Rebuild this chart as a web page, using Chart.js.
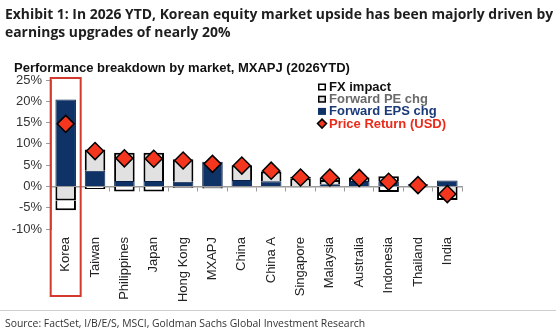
<!DOCTYPE html>
<html>
<head>
<meta charset="utf-8">
<script src="https://cdn.jsdelivr.net/npm/chart.js@4.4.1/dist/chart.umd.min.js"></script>
<style>
  html, body { margin: 0; padding: 0; background: #fff; }
  #wrap { position: relative; width: 556px; height: 333px; overflow: hidden; }
  #title { position: absolute; left: 5px; top: 5px; font-family: "Open Sans", sans-serif; font-weight: bold; font-size: 13.9px; line-height: 18px; color: #1e1e1e; white-space: nowrap; }
  #sub { position: absolute; left: 14px; top: 60px; font-family: "Liberation Sans", Arial, sans-serif; font-weight: bold; font-size: 13px; color: #111; white-space: nowrap; }
  #rule { position: absolute; left: 0; top: 310px; width: 556px; height: 1px; background: #cfcfcf; }
  #src { position: absolute; left: 5px; top: 316px; font-family: "Open Sans", sans-serif; font-size: 10.4px; color: #333; white-space: nowrap; }
  canvas { position: absolute; left: 0; top: 0; }
</style>
</head>
<body>
<div id="wrap">
  <canvas id="c" width="556" height="333"></canvas>
  <div id="title">Exhibit 1: In 2026 YTD, Korean equity market upside has been majorly driven by<br>earnings upgrades of nearly 20%</div>
  <div id="sub">Performance breakdown by market, MXAPJ (2026YTD)</div>
  <div id="rule"></div>
  <div id="src">Source: FactSet, I/B/E/S, MSCI, Goldman Sachs Global Investment Research</div>
</div>
<script>
const categories = ["Korea","Taiwan","Philippines","Japan","Hong Kong","MXAPJ","China","China A","Singapore","Malaysia","Australia","Indonesia","Thailand","India"];
const epsChg   = [20.4, 3.7, 1.3, 1.3, 1.1, 5.8, 1.5, 1.2, -0.2, 0.5, 1.3, 1.2, 0.3, 1.4];
const peChg    = [-3.3, 5.0, 6.6, 6.6, 5.3, -0.3, 3.5, 2.3, 1.9, 1.0, 0.8, 1.2, 0.2, -2.0];
const fxImpact = [-2.3, -0.6, -1.2, -1.2, -0.3, -0.2, -0.1, 0.1, 0.4, 0.6, 0.0, -1.3, -0.2, -1.2];
const priceRet = [14.7, 8.3, 6.6, 6.5, 6.1, 5.3, 4.9, 3.7, 2.1, 2.1, 2.0, 1.1, 0.3, -1.8];
const yTicks   = [-10, -5, 0, 5, 10, 15, 20, 25];

const NAVY = '#0f3267', GREY = '#e1e1e1', RED = '#f4361e';

const legendItems = [
  {text: 'FX impact', color: '#111111', type: 'box', fill: '#ffffff'},
  {text: 'Forward PE chg', color: '#6a6a6a', type: 'box', fill: GREY},
  {text: 'Forward EPS chg', color: '#1b3a78', type: 'solid', fill: NAVY},
  {text: 'Price Return (USD)', color: '#ec2a1a', type: 'diamond', fill: RED}
];

const overlay = {
  id: 'overlay',
  afterDraw(chart) {
    const ctx = chart.ctx, x = chart.scales.x;
    const cx = x.getPixelForValue(0);
    ctx.save();
    ctx.strokeStyle = '#d23a2e';
    ctx.lineWidth = 2;
    ctx.strokeRect(cx - 15, 78, 30, 218);
    const lx = 318, ly0 = 87, dy = 12.2;
    ctx.font = 'bold 13px "Liberation Sans", Arial, sans-serif';
    ctx.textBaseline = 'middle';
    legendItems.forEach((it, i) => {
      const y = ly0 + i * dy;
      if (it.type === 'diamond') {
        ctx.beginPath();
        ctx.moveTo(lx + 4, y - 4.5); ctx.lineTo(lx + 8.5, y); ctx.lineTo(lx + 4, y + 4.5); ctx.lineTo(lx - 0.5, y); ctx.closePath();
        ctx.fillStyle = it.fill; ctx.fill();
        ctx.lineWidth = 1.5; ctx.strokeStyle = '#000'; ctx.stroke();
      } else if (it.type === 'solid') {
        ctx.fillStyle = it.fill; ctx.fillRect(lx, y - 3.5, 8, 7);
      } else {
        ctx.fillStyle = it.fill; ctx.fillRect(lx, y - 3.5, 8, 7);
        ctx.lineWidth = 1.5; ctx.strokeStyle = '#000'; ctx.strokeRect(lx + 0.75, y - 2.75, 6.5, 5.5);
      }
      ctx.fillStyle = it.color;
      ctx.fillText(it.text, lx + 11, y + 0.5);
    });
    ctx.restore();
  }
};

new Chart(document.getElementById('c'), {
  data: {
    labels: categories,
    datasets: [
      {type: 'line', label: 'Price Return (USD)', data: priceRet, showLine: false, order: 0,
       pointStyle: 'rectRot', pointRadius: 8.5, pointHoverRadius: 8.5,
       pointBackgroundColor: RED, pointBorderColor: '#000', pointBorderWidth: 1.5},
      {type: 'bar', label: 'Forward EPS chg', data: epsChg, stack: 's', order: 1,
       backgroundColor: NAVY, borderColor: '#0a2148', borderWidth: 1,
       barPercentage: 0.7, categoryPercentage: 1.0},
      {type: 'bar', label: 'Forward PE chg', data: peChg, stack: 's', order: 1,
       backgroundColor: GREY, borderColor: '#000', borderWidth: 2,
       barPercentage: 0.7, categoryPercentage: 1.0},
      {type: 'bar', label: 'FX impact', data: fxImpact, stack: 's', order: 1,
       backgroundColor: '#ffffff', borderColor: '#000', borderWidth: 2,
       barPercentage: 0.7, categoryPercentage: 1.0}
    ]
  },
  options: {
    responsive: false,
    animation: false,
    events: [],
    layout: {padding: {top: 80, right: 94, left: 0, bottom: 0}},
    plugins: {legend: {display: false}, tooltip: {enabled: false}, title: {display: false}},
    scales: {
      x: {
        type: 'category', stacked: true, offset: true,
        grid: {display: false, drawTicks: false},
        border: {display: false},
        ticks: {maxRotation: 90, minRotation: 90, padding: 8, autoSkip: false,
                color: '#222', font: {family: '"Liberation Sans", Arial, sans-serif', size: 13}},
        afterFit(s) { s.height = 104; }
      },
      x2: {
        type: 'category', position: {y: 0}, offset: true,
        grid: {offset: true, drawOnChartArea: false, tickLength: 4, color: '#9a9a9a'},
        border: {display: true, color: '#9a9a9a', width: 1.5},
        ticks: {display: false}
      },
      y: {
        stacked: true, min: -10, max: 25,
        afterBuildTicks(s) { s.ticks = yTicks.map(v => ({value: v})); },
        grid: {drawOnChartArea: false, tickLength: 5, color: '#9a9a9a'},
        border: {display: true, color: '#9a9a9a'},
        ticks: {padding: 4, color: '#333', font: {family: '"Liberation Sans", Arial, sans-serif', size: 13},
                callback: v => v + '%'},
        afterFit(s) { s.width = 51; }
      }
    }
  },
  plugins: [overlay]
});
</script>
</body>
</html>
